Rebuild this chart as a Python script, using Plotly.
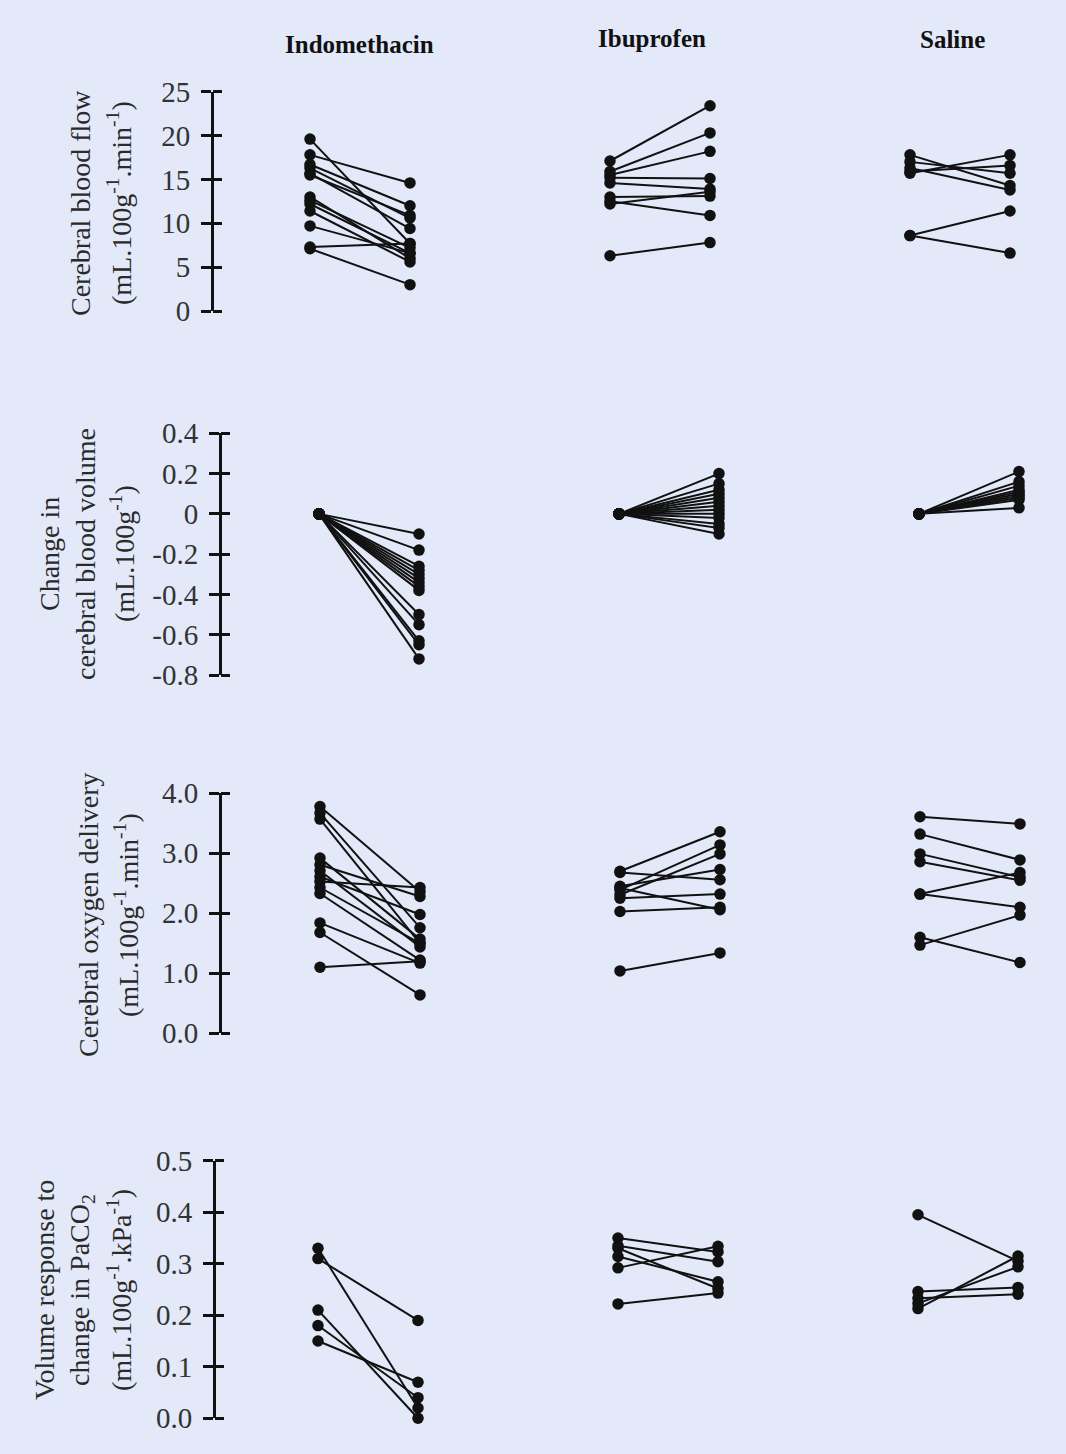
import plotly.graph_objects as go

# ---- data: before / after values for each treatment group ----
groups = ["Indomethacin", "Ibuprofen", "Saline"]

cbf_indo_pre = [19.6, 17.8, 16.7, 16.3, 15.7, 15.5, 13.0, 12.6, 12.2, 11.4, 9.7, 7.3, 7.1]
cbf_indo_post = [7.7, 14.6, 12.0, 10.6, 9.4, 10.9, 6.0, 7.2, 6.6, 5.6, 6.6, 7.7, 3.0]
cbf_ibu_pre = [17.1, 15.9, 15.5, 15.2, 14.6, 13.0, 12.5, 12.2, 6.3]
cbf_ibu_post = [23.4, 20.3, 18.2, 15.1, 13.9, 13.1, 10.9, 13.6, 7.8]
cbf_sal_pre = [17.8, 17.0, 16.3, 15.7, 15.9, 8.6, 8.6]
cbf_sal_post = [14.3, 15.7, 13.8, 17.8, 16.6, 11.4, 6.6]

cbv_indo_pre = [0, 0, 0, 0, 0, 0, 0, 0, 0, 0, 0, 0, 0, 0]
cbv_indo_post = [-0.10, -0.18, -0.26, -0.28, -0.30, -0.32, -0.34, -0.36, -0.38,
                 -0.50, -0.55, -0.63, -0.65, -0.72]
cbv_ibu_pre = [0, 0, 0, 0, 0, 0, 0, 0, 0, 0, 0, 0, 0]
cbv_ibu_post = [0.20, 0.15, 0.12, 0.10, 0.08, 0.06, 0.04, 0.02, 0.00, -0.02, -0.05, -0.07, -0.10]
cbv_sal_pre = [0, 0, 0, 0, 0, 0, 0, 0, 0, 0]
cbv_sal_post = [0.21, 0.16, 0.14, 0.12, 0.11, 0.10, 0.09, 0.08, 0.07, 0.03]

do2_indo_pre = [3.78, 3.67, 3.57, 2.92, 2.81, 2.71, 2.61, 2.53, 2.43, 2.33, 1.84, 1.68, 1.10]
do2_indo_post = [2.36, 1.76, 1.50, 1.57, 2.28, 1.44, 1.98, 2.43, 1.50, 1.22, 1.17, 0.64, 1.20]
do2_ibu_pre = [2.70, 2.68, 2.45, 2.39, 2.31, 2.25, 2.42, 2.03, 1.04]
do2_ibu_post = [3.36, 2.56, 2.73, 3.14, 2.99, 2.32, 2.06, 2.10, 1.34]
do2_sal_pre = [3.61, 3.32, 2.99, 2.86, 2.32, 2.32, 1.60, 1.47]
do2_sal_post = [3.49, 2.89, 2.60, 2.55, 2.68, 2.10, 1.18, 1.97]

vr_indo_pre = [0.33, 0.31, 0.21, 0.18, 0.15]
vr_indo_post = [0.02, 0.19, 0.00, 0.04, 0.07]
vr_ibu_pre = [0.350, 0.335, 0.330, 0.314, 0.292, 0.222]
vr_ibu_post = [0.323, 0.304, 0.252, 0.265, 0.334, 0.243]
vr_sal_pre = [0.395, 0.213, 0.223, 0.246, 0.233]
vr_sal_post = [0.305, 0.315, 0.294, 0.254, 0.241]

# ---- axis ticks ----
cbf_ticks = [0, 5, 10, 15, 20, 25]
cbf_ticktext = ["0", "5", "10", "15", "20", "25"]
cbv_ticks = [-0.8, -0.6, -0.4, -0.2, 0, 0.2, 0.4]
cbv_ticktext = ["-0.8", "-0.6", "-0.4", "-0.2", "0", "0.2", "0.4"]
do2_ticks = [0, 1, 2, 3, 4]
do2_ticktext = ["0.0", "1.0", "2.0", "3.0", "4.0"]
vr_ticks = [0, 0.1, 0.2, 0.3, 0.4, 0.5]
vr_ticktext = ["0.0", "0.1", "0.2", "0.3", "0.4", "0.5"]

rows = [
    dict(series=[(cbf_indo_pre, cbf_indo_post), (cbf_ibu_pre, cbf_ibu_post), (cbf_sal_pre, cbf_sal_post)],
         ticks=cbf_ticks, ticktext=cbf_ticktext, rng=[0, 25],
         dom=[1 - 311 / 1454, 1 - 91.7 / 1454], axis_px=212, x0_px=310,
         title=[("Cerebral blood flow", 80), ("(mL.100g<sup>-1</sup>.min<sup>-1</sup>)", 119)], title_y=203),
    dict(series=[(cbv_indo_pre, cbv_indo_post), (cbv_ibu_pre, cbv_ibu_post), (cbv_sal_pre, cbv_sal_post)],
         ticks=cbv_ticks, ticktext=cbv_ticktext, rng=[-0.8, 0.4],
         dom=[1 - 675 / 1454, 1 - 433.3 / 1454], axis_px=220, x0_px=319,
         title=[("Change in", 50), ("cerebral blood volume", 86), ("(mL.100g<sup>-1</sup>)", 123)], title_y=554),
    dict(series=[(do2_indo_pre, do2_indo_post), (do2_ibu_pre, do2_ibu_post), (do2_sal_pre, do2_sal_post)],
         ticks=do2_ticks, ticktext=do2_ticktext, rng=[0, 4],
         dom=[1 - 1033.3 / 1454, 1 - 793.3 / 1454], axis_px=220, x0_px=320,
         title=[("Cerebral oxygen delivery", 88), ("(mL.100g<sup>-1</sup>.min<sup>-1</sup>)", 126)], title_y=915),
    dict(series=[(vr_indo_pre, vr_indo_post), (vr_ibu_pre, vr_ibu_post), (vr_sal_pre, vr_sal_post)],
         ticks=vr_ticks, ticktext=vr_ticktext, rng=[0, 0.5],
         dom=[1 - 1418.3 / 1454, 1 - 1160.7 / 1454], axis_px=214, x0_px=318,
         title=[("Volume response to", 44), ("change in PaCO<sub>2</sub>", 81), ("(mL.100g<sup>-1</sup>.kPa<sup>-1</sup>)", 119)],
         title_y=1290),
]

W, H = 1066, 1454
BG = "#e3e9f8"
SERIF = "Liberation Serif, Times New Roman, serif"
PX_PER_UNIT = 100.0   # horizontal scale: before/after gap = 1 unit, groups 3 units apart

fig = go.Figure()
layout = dict(
    width=W, height=H, margin=dict(l=0, r=0, t=0, b=0, pad=0, autoexpand=False),
    paper_bgcolor=BG, plot_bgcolor=BG, showlegend=False,
    font=dict(family=SERIF, color="#222222"),
)
annotations = []

for r, row in enumerate(rows):
    i = r + 1
    xa = "x" if i == 1 else f"x{i}"
    ya = "y" if i == 1 else f"y{i}"
    ya_right = f"y{i + 4}"
    sfx = "" if i == 1 else str(i)

    for g, (pre, post) in enumerate(row["series"]):
        xs, ys = [], []
        for a, b in zip(pre, post):
            xs += [3 * g, 3 * g + 1, None]
            ys += [a, b, None]
        fig.add_trace(go.Scatter(
            x=xs, y=ys, xaxis=xa, yaxis=ya, mode="lines+markers",
            line=dict(color="#111111", width=2),
            marker=dict(color="#111111", size=11.5),
            cliponaxis=False, hoverinfo="skip",
        ))

    x0 = row["x0_px"]
    layout[f"xaxis{sfx}"] = dict(
        domain=[0, 1], range=[-x0 / PX_PER_UNIT, (W - x0) / PX_PER_UNIT],
        visible=False, anchor=ya, automargin=False,
    )
    common = dict(
        domain=row["dom"], range=row["rng"], anchor="free", automargin=False,
        position=row["axis_px"] / W, showgrid=False, zeroline=False,
        tickvals=row["ticks"], tickwidth=2.5, tickcolor="#111111",
    )
    layout[f"yaxis{sfx}"] = dict(
        **common, side="left", ticks="outside", ticklen=10, ticktext=row["ticktext"],
        showline=True, linewidth=3, linecolor="#111111", ticklabelstandoff=5,
        tickfont=dict(family=SERIF, size=29, color="#333333"),
    )
    # short ticks on the right-hand side of the axis line
    layout[f"yaxis{i + 4}"] = dict(
        **common, overlaying=ya, side="right", ticks="outside", ticklen=9,
        showticklabels=False, showline=False,
    )
    fig.add_trace(go.Scatter(x=[0], y=[row["rng"][0]], xaxis=xa, yaxis=ya_right,
                             mode="markers", marker=dict(opacity=0), hoverinfo="skip"))

    for text, xp in row["title"]:
        annotations.append(dict(
            text=text, xref="paper", yref="paper", x=xp / W, y=1 - row["title_y"] / H,
            xanchor="center", yanchor="middle", textangle=-90, showarrow=False,
            font=dict(family=SERIF, size=28, color="#2a2a2a"),
        ))

# column headings
for name, xp, yp in zip(groups, [359, 652, 952], [45, 38, 40]):
    annotations.append(dict(
        text=f"<b>{name}</b>", xref="paper", yref="paper", x=xp / W, y=1 - yp / H,
        xanchor="center", yanchor="middle", showarrow=False,
        font=dict(family=SERIF, size=25, color="#111111"),
    ))

layout["annotations"] = annotations
fig.update_layout(**layout)
fig.write_html("out.html")
